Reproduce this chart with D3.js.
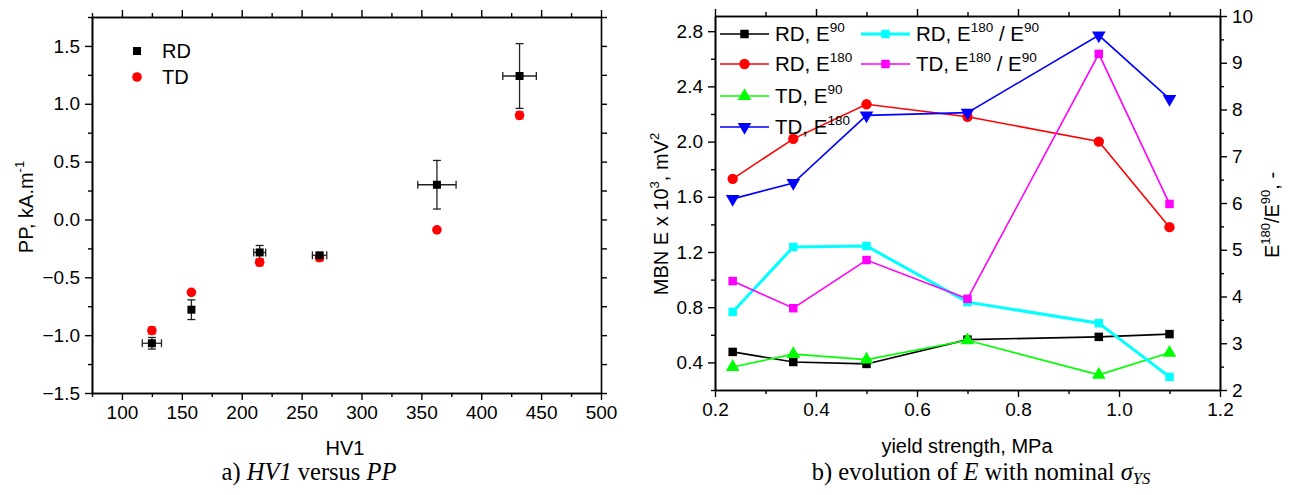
<!DOCTYPE html>
<html>
<head>
<meta charset="utf-8">
<script src="https://cdn.jsdelivr.net/npm/d3@7"></script>
<style>
  body { margin: 0; background: #fff; }
  text { font-family: "Liberation Sans", Arial, sans-serif; }
  .cap { font-family: "Liberation Serif", "Times New Roman", serif; font-size: 24.5px; }
</style>
</head>
<body>
<div id="chart"></div>
<script>

// ---- panel a: HV1 vs PP ----
const hv1     = [125, 158, 215, 265, 363, 432];
const hv1Err  = [8, 0, 5, 6, 16, 14];
const ppRD    = [-1.07, -0.78, -0.285, -0.31, 0.30, 1.24];
const ppRDErr = [0.05, 0.085, 0.06, 0.02, 0.21, 0.28];
const ppTD    = [-0.96, -0.63, -0.37, -0.33, -0.09, 0.90];
const ppTDErr = [0.03, 0, 0.03, 0.03, 0, 0.03];

// ---- panel b: MBN energy vs yield strength ----
const yieldStrength = [0.235, 0.355, 0.5, 0.7, 0.96, 1.1];
const rdE90      = [0.476, 0.403, 0.389, 0.565, 0.585, 0.605];
const rdE180     = [1.73, 2.02, 2.27, 2.18, 2.0, 1.38];
const tdE90      = [0.367, 0.46, 0.42, 0.56, 0.31, 0.47];
const tdE180     = [1.585, 1.70, 2.19, 2.21, 2.77, 2.31];
const rdRatio    = [3.67, 5.06, 5.08, 3.88, 3.43, 2.28];
const tdRatio    = [4.33, 3.75, 4.78, 3.95, 9.19, 5.98];

const xTicksA = [100, 150, 200, 250, 300, 350, 400, 450, 500];
const yTicksA = [-1.5, -1.0, -0.5, 0.0, 0.5, 1.0, 1.5];
const xTicksB = [0.2, 0.4, 0.6, 0.8, 1.0, 1.2];
const yTicksB = [0.4, 0.8, 1.2, 1.6, 2.0, 2.4, 2.8];
const yTicksB2 = [2, 3, 4, 5, 6, 7, 8, 9, 10];

const W = 1296, H = 495;
const svg = d3.select("#chart").append("svg")
  .attr("width", W).attr("height", H);

const tickFont = 19;

function styleAxis(g){
  g.select(".domain").attr("stroke", "#000").attr("stroke-width", 1.6);
  g.selectAll(".tick line").attr("stroke", "#000").attr("stroke-width", 1.4);
  g.selectAll(".tick text").attr("font-size", tickFont).attr("fill", "#000")
    .attr("font-family", "'Liberation Sans', Arial, sans-serif");
}

// draws bottom/top/left with outward major+minor ticks
function frame(g, x, y, opts){
  const [x0] = x.range(), [y0, y1] = y.range();
  const bottom = y0, top = y1, left = x0;

  g.append("g").attr("transform", `translate(0,${bottom})`)
    .call(d3.axisBottom(x).tickValues(opts.xMinor).tickSize(4).tickFormat("").tickSizeOuter(0)).call(styleAxis);
  g.append("g").attr("transform", `translate(0,${bottom})`)
    .call(d3.axisBottom(x).tickValues(opts.xMajor).tickSize(7).tickPadding(6).tickFormat(opts.xFmt).tickSizeOuter(0)).call(styleAxis);
  g.append("g").attr("transform", `translate(0,${top})`)
    .call(d3.axisTop(x).tickValues(opts.xMinor).tickSize(4).tickFormat("").tickSizeOuter(0)).call(styleAxis);
  g.append("g").attr("transform", `translate(0,${top})`)
    .call(d3.axisTop(x).tickValues(opts.xMajor).tickSize(7).tickFormat("").tickSizeOuter(0)).call(styleAxis);

  g.append("g").attr("transform", `translate(${left},0)`)
    .call(d3.axisLeft(y).tickValues(opts.yMinor).tickSize(4).tickFormat("").tickSizeOuter(0)).call(styleAxis);
  g.append("g").attr("transform", `translate(${left},0)`)
    .call(d3.axisLeft(y).tickValues(opts.yMajor).tickSize(7).tickPadding(5).tickFormat(opts.yFmt).tickSizeOuter(0)).call(styleAxis);
}

// ================= panel a =================
const xA = d3.scaleLinear().domain([75, 500]).range([92, 601]);
const yA = d3.scaleLinear().domain([-1.5, 1.75]).range([393, 17]);
const gA = svg.append("g");

frame(gA, xA, yA, {
  xMajor: xTicksA, xMinor: d3.range(75, 501, 25).filter(v => v % 50 !== 0),
  xFmt: d3.format("d"),
  yMajor: yTicksA, yMinor: d3.range(-1.25, 1.76, 0.5),
  yFmt: d3.format(".1f")
});
// right side ticks (no labels)
gA.append("g").attr("transform", `translate(601,0)`)
  .call(d3.axisRight(yA).tickValues(d3.range(-1.5, 1.76, 0.25)).tickSize(6).tickFormat("").tickSizeOuter(0)).call(styleAxis);

// error bars RD
const errA = gA.append("g").attr("stroke", "#222").attr("stroke-width", 1.3).attr("fill", "none");
hv1.forEach((h, i) => {
  const cx = xA(h), cy = yA(ppRD[i]);
  const e = ppRDErr[i];
  if (e > 0) {
    errA.append("line").attr("x1", cx).attr("x2", cx).attr("y1", yA(ppRD[i] - e)).attr("y2", yA(ppRD[i] + e));
    [ppRD[i] - e, ppRD[i] + e].forEach(v =>
      errA.append("line").attr("x1", cx - 4).attr("x2", cx + 4).attr("y1", yA(v)).attr("y2", yA(v)));
  }
  const ex = hv1Err[i];
  if (ex > 0) {
    errA.append("line").attr("x1", xA(h - ex)).attr("x2", xA(h + ex)).attr("y1", cy).attr("y2", cy);
    [h - ex, h + ex].forEach(v =>
      errA.append("line").attr("x1", xA(v)).attr("x2", xA(v)).attr("y1", cy - 4).attr("y2", cy + 4));
  }
});

// TD points with small y error bars
const tdErrG = gA.append("g").attr("stroke", "#ff3030").attr("stroke-width", 1.3);
hv1.forEach((h, i) => {
  const e = ppTDErr[i];
  if (e > 0) {
    const cx = xA(h);
    tdErrG.append("line").attr("x1", cx).attr("x2", cx).attr("y1", yA(ppTD[i] - e)).attr("y2", yA(ppTD[i] + e));
    [ppTD[i] - e, ppTD[i] + e].forEach(v =>
      tdErrG.append("line").attr("x1", cx - 4).attr("x2", cx + 4).attr("y1", yA(v)).attr("y2", yA(v)));
  }
});
gA.append("g").selectAll("circle").data(hv1).join("circle")
  .attr("cx", d => xA(d)).attr("cy", (d, i) => yA(ppTD[i])).attr("r", 4.8).attr("fill", "#ff0000");

gA.append("g").selectAll("rect").data(hv1).join("rect")
  .attr("x", d => xA(d) - 4).attr("y", (d, i) => yA(ppRD[i]) - 4)
  .attr("width", 8).attr("height", 8).attr("fill", "#000");

// legend a
gA.append("rect").attr("x", 133).attr("y", 47).attr("width", 8).attr("height", 8).attr("fill", "#000");
gA.append("circle").attr("cx", 137).attr("cy", 77).attr("r", 4.8).attr("fill", "#ff0000");
gA.append("text").attr("x", 162).attr("y", 58).attr("font-size", 20).text("RD");
gA.append("text").attr("x", 162).attr("y", 84).attr("font-size", 20).text("TD");

// titles a
const yTitleA = gA.append("text").attr("transform", "translate(33,207) rotate(-90)")
  .attr("text-anchor", "middle").attr("font-size", 20);
yTitleA.append("tspan").text("PP, kA.m");
yTitleA.append("tspan").attr("dy", -9).attr("font-size", 13).text("-1");

gA.append("text").attr("x", 345).attr("y", 455).attr("text-anchor", "middle").attr("font-size", 20).text("HV1");

const capA = gA.append("text").attr("class", "cap").attr("x", 309).attr("y", 480).attr("text-anchor", "middle");
capA.append("tspan").text("a) ");
capA.append("tspan").attr("font-style", "italic").text("HV1");
capA.append("tspan").text(" versus ");
capA.append("tspan").attr("font-style", "italic").text("PP");

// ================= panel b =================
const xB = d3.scaleLinear().domain([0.2, 1.2]).range([715, 1220]);
const yB = d3.scaleLinear().domain([0.2, 2.91]).range([390, 16]);
const yB2 = d3.scaleLinear().domain([2, 10]).range([390, 16]);
const gB = svg.append("g");

frame(gB, xB, yB, {
  xMajor: xTicksB, xMinor: d3.range(0.3, 1.2, 0.2),
  xFmt: d3.format(".1f"),
  yMajor: yTicksB, yMinor: d3.range(0.2, 2.91, 0.4),
  yFmt: d3.format(".1f")
});
gB.append("g").attr("transform", "translate(1220,0)")
  .call(d3.axisRight(yB2).tickValues(d3.range(2.5, 10, 1)).tickSize(4).tickFormat("").tickSizeOuter(0)).call(styleAxis);
gB.append("g").attr("transform", "translate(1220,0)")
  .call(d3.axisRight(yB2).tickValues(yTicksB2).tickSize(7).tickPadding(5).tickFormat(d3.format("d")).tickSizeOuter(0)).call(styleAxis);

const seriesB = [
  { name: "RD, E", sup: "90",  vals: rdE90,  color: "#000000", shape: "square", axis: yB, lw: 1.6 },
  { name: "RD, E", sup: "180", vals: rdE180, color: "#ff0000", shape: "circle", axis: yB, lw: 1.6 },
  { name: "TD, E", sup: "90",  vals: tdE90,  color: "#00ff00", shape: "up",     axis: yB, lw: 1.6 },
  { name: "TD, E", sup: "180", vals: tdE180, color: "#0000ff", shape: "down",   axis: yB, lw: 1.6 },
  { name: "RD, E", sup: "180", ratio: true, vals: rdRatio, color: "#00ffff", shape: "square", axis: yB2, lw: 3 },
  { name: "TD, E", sup: "180", ratio: true, vals: tdRatio, color: "#ff00ff", shape: "square", axis: yB2, lw: 1.6 }
];

const symbolFor = {
  square: d3.symbol().type(d3.symbolSquare).size(72),
  circle: d3.symbol().type(d3.symbolCircle).size(85),
  up: d3.symbol().type(d3.symbolTriangle).size(80),
  down: d3.symbol().type(d3.symbolTriangle).size(80)
};
function marker(g, s, x, y){
  g.append("path").attr("d", symbolFor[s.shape]())
    .attr("transform", `translate(${x},${y})` + (s.shape === "down" ? " rotate(180)" : ""))
    .attr("fill", s.color);
}

const lineGen = d3.line();
seriesB.forEach(s => {
  const pts = yieldStrength.map((v, i) => [xB(v), s.axis(s.vals[i])]);
  gB.append("path").attr("d", lineGen(pts)).attr("fill", "none")
    .attr("stroke", s.color).attr("stroke-width", s.lw);
  const mg = gB.append("g");
  pts.forEach(p => marker(mg, s, p[0], p[1]));
});

// legend b
const legPos = [[720, 34], [720, 64], [720, 96], [720, 127], [861, 34], [861, 64]];
seriesB.forEach((s, i) => {
  const [lx, ly] = legPos[i];
  gB.append("line").attr("x1", lx).attr("x2", lx + 49).attr("y1", ly).attr("y2", ly)
    .attr("stroke", s.color).attr("stroke-width", s.lw);
  marker(gB, s, lx + 24.5, ly);
  const t = gB.append("text").attr("x", lx + 55).attr("y", ly + 7).attr("font-size", 20.5);
  t.append("tspan").text(s.name);
  t.append("tspan").attr("dy", -9).attr("font-size", 13.5).text(s.sup);
  if (s.ratio) {
    t.append("tspan").attr("dy", 9).text(" / E");
    t.append("tspan").attr("dy", -9).attr("font-size", 13.5).text("90");
  }
});

// titles b
const yTitleB = gB.append("text").attr("transform", "translate(668,214) rotate(-90)")
  .attr("text-anchor", "middle").attr("font-size", 20);
yTitleB.append("tspan").text("MBN E x 10");
yTitleB.append("tspan").attr("dy", -9).attr("font-size", 13).text("3");
yTitleB.append("tspan").attr("dy", 9).text(", mV");
yTitleB.append("tspan").attr("dy", -9).attr("font-size", 13).text("2");

const yTitleB2 = gB.append("text").attr("transform", "translate(1279,215) rotate(-90)")
  .attr("text-anchor", "middle").attr("font-size", 20);
yTitleB2.append("tspan").text("E");
yTitleB2.append("tspan").attr("dy", -9).attr("font-size", 13).text("180");
yTitleB2.append("tspan").attr("dy", 9).text("/E");
yTitleB2.append("tspan").attr("dy", -9).attr("font-size", 13).text("90");
yTitleB2.append("tspan").attr("dy", 9).text(", -");

gB.append("text").attr("x", 967).attr("y", 453).attr("text-anchor", "middle").attr("font-size", 20)
  .text("yield strength, MPa");

const capB = gB.append("text").attr("class", "cap").attr("x", 981).attr("y", 480).attr("text-anchor", "middle");
capB.append("tspan").text("b) evolution of ");
capB.append("tspan").attr("font-style", "italic").text("E");
capB.append("tspan").text(" with nominal ");
capB.append("tspan").attr("font-style", "italic").text("σ");
capB.append("tspan").attr("font-style", "italic").attr("font-size", 16.5).attr("dy", 4).text("YS");

</script>
</body>
</html>
